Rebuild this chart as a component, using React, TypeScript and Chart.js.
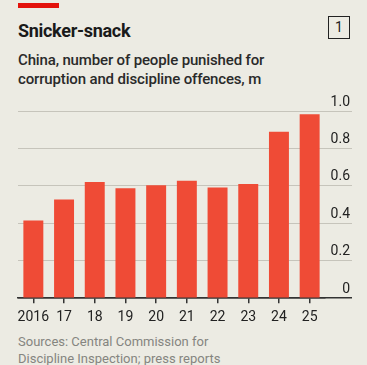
import React, { useEffect, useRef } from "react";
import { Chart, registerables } from "chart.js";

Chart.register(...registerables);

const years = ["2016", "17", "18", "19", "20", "21", "22", "23", "24", "25"];
const punished = [0.415, 0.527, 0.621, 0.587, 0.604, 0.627, 0.592, 0.61, 0.889, 0.983];
const yTicks = [0, 0.2, 0.4, 0.6, 0.8, 1.0];

const BG = "#ECEBE3";
const BAR = "#EF4B36";
const GRID = "#C6C4BB";
const DARK = "#333333";
const FONT = "Roboto, 'Noto Sans', sans-serif";

export default function App() {
  const ref = useRef<HTMLCanvasElement | null>(null);

  useEffect(() => {
    document.body.style.margin = "0";
    document.body.style.background = BG;
    const canvas = ref.current;
    if (!canvas) return;
    const chart = new Chart(canvas, {
      type: "bar",
      data: {
        labels: years,
        datasets: [
          {
            data: punished,
            backgroundColor: BAR,
            borderWidth: 0,
            categoryPercentage: 1,
            barPercentage: 0.65,
          },
        ],
      },
      options: {
        responsive: false,
        animation: false,
        layout: { padding: { left: 18, right: 15, top: 23, bottom: 1 } },
        plugins: { legend: { display: false }, tooltip: { enabled: false }, title: { display: false } },
        scales: {
          x: {
            grid: {
              display: true,
              drawOnChartArea: false,
              drawTicks: true,
              tickLength: 5,
              color: DARK,
              lineWidth: 1.5,
              offset: false,
            },
            border: { display: true, color: DARK, width: 1.5 },
            ticks: {
              color: "#222",
              font: { family: FONT, size: 14 },
              padding: 6,
              maxRotation: 0,
              autoSkip: false,
            },
          },
          y: {
            position: "right",
            min: 0,
            max: 1,
            afterBuildTicks: (scale: any) => {
              scale.ticks = yTicks.map((v) => ({ value: v }));
            },
            afterFit: (scale: any) => {
              scale.width = 27;
              scale.paddingTop = 0;
              scale.paddingBottom = 0;
            },
            grid: {
              color: (ctx: any) => (ctx.tick && ctx.tick.value === 0 ? DARK : GRID),
              lineWidth: (ctx: any) => (ctx.tick && ctx.tick.value === 0 ? 1.5 : 1),
              drawTicks: true,
              tickLength: 27,
            },
            border: { display: false },
            ticks: {
              mirror: true,
              padding: 25,
              labelOffset: -9,
              color: "#222",
              font: { family: FONT, size: 14 },
              callback: (v: any) => (Number(v) === 0 ? "0" : Number(v).toFixed(1)),
            },
          },
        },
      },
    });
    return () => chart.destroy();
  }, []);

  return (
    <div style={{ position: "relative", width: 367, height: 365, background: BG, overflow: "hidden" }}>
      <div style={{ position: "absolute", left: 18, top: 3, width: 41, height: 5, background: "#E3120B" }} />
      <div
        style={{
          position: "absolute",
          left: 18,
          top: 19,
          fontFamily: FONT,
          fontWeight: 700,
          fontSize: 18,
          color: "#1a1a1a",
          lineHeight: "24px",
          letterSpacing: -0.3,
        }}
      >
        Snicker-snack
      </div>
      <div
        style={{
          position: "absolute",
          left: 328,
          top: 16,
          width: 20,
          height: 21,
          border: "1.5px solid #222",
          fontFamily: FONT,
          fontSize: 14,
          color: "#222",
          textAlign: "center",
          lineHeight: "21px",
        }}
      >
        1
      </div>
      <div
        style={{
          position: "absolute",
          left: 18,
          top: 51,
          fontFamily: FONT,
          fontWeight: 500,
          fontSize: 15,
          color: "#2a2a2a",
          lineHeight: "19px",
          letterSpacing: -0.15,
        }}
      >
        China, number of people punished for
        <br />
        corruption and discipline offences, m
      </div>
      <canvas ref={ref} width={367} height={245} style={{ position: "absolute", left: 0, top: 88, width: 367, height: 245 }} />
      <div
        style={{
          position: "absolute",
          left: 18,
          top: 334,
          fontFamily: FONT,
          fontSize: 13,
          color: "#858580",
          lineHeight: "16.5px",
        }}
      >
        Sources: Central Commission for
        <br />
        Discipline Inspection; press reports
      </div>
    </div>
  );
}
